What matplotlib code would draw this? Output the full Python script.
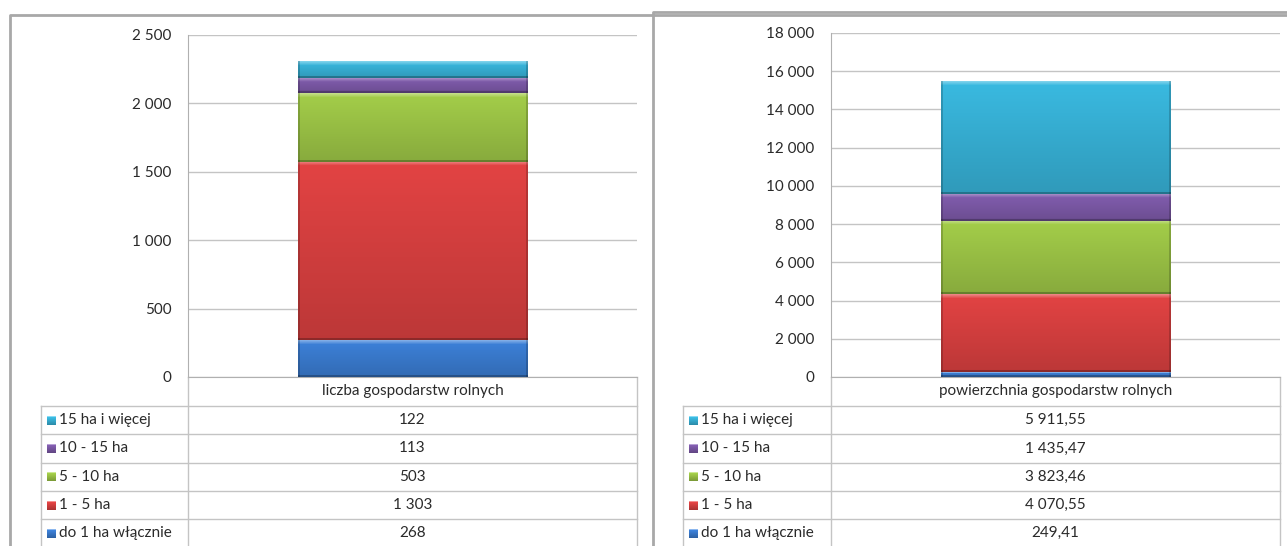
import numpy as np
import matplotlib
matplotlib.use('Agg')
import matplotlib.pyplot as plt
from matplotlib.ticker import FuncFormatter, FixedLocator
from matplotlib.colors import to_rgb

# data
categories = ['do 1 ha włącznie', '1 - 5 ha', '5 - 10 ha', '10 - 15 ha', '15 ha i więcej']
liczba = [268, 1303, 503, 113, 122]
powierzchnia = [249.41, 4070.55, 3823.46, 1435.47, 5911.55]
series_left = 'liczba gospodarstw rolnych'
series_right = 'powierzchnia gospodarstw rolnych'
ticks_left = [0, 500, 1000, 1500, 2000, 2500]
ticks_right = [0, 2000, 4000, 6000, 8000, 10000, 12000, 14000, 16000, 18000]

colors = ['#3a7bcf', '#d84040', '#9cc446', '#7c59a7', '#37b1d6']

W, H = 1287, 546
plt.rcParams['font.family'] = ['Lato', 'DejaVu Sans']
txt_col = '#2a2a2a'
line_col = '#c4c4c4'
fs = 11


def fbox(x0, y0, x1, y1):
    # pixel box (top-left origin) -> figure fraction
    return [x0 / W, 1 - y1 / H, (x1 - x0) / W, (y1 - y0) / H]


def fmt_int(v, pos=None):
    return f'{v:,.0f}'.replace(',', ' ')


def fmt_dec(v):
    s = f'{v:,.2f}'
    return s.replace(',', ' ').replace('.', ',')


def bevel(ax, rect, color, ppu, wpx):
    x, y = rect.get_x(), rect.get_y()
    w, h = rect.get_width(), rect.get_height()
    hp = max(int(round(h * ppu)), 4)
    base = np.array(to_rgb(color))
    t = np.linspace(0, 1, hp)[:, None, None]
    img = np.ones((hp, wpx, 3)) * base * (1.05 - 0.18 * t)
    n = min(4, hp // 3)
    for j in range(n):
        a = 0.35 * (1 - j / n)
        img[j] = img[j] * (1 - a) + a      # soft light top edge
    img[-2:] = img[-2:] * 0.75             # dark bottom edge
    img[:, :2] *= 0.82
    img[:, -2:] *= 0.82
    img = np.clip(img, 0, 1)
    ax.imshow(img, extent=(x, x + w, y, y + h), aspect='auto',
              interpolation='bilinear', origin='upper', zorder=3)


def swatch(color, size=9):
    base = np.array(to_rgb(color))
    t = np.linspace(0, 1, size)[:, None, None]
    img = np.ones((size, size, 3)) * base * (1.1 - 0.3 * t)
    img[0] = img[0] * 0.6 + 0.4
    return np.clip(img, 0, 1)


fig = plt.figure(figsize=(W / 100, H / 100), dpi=100)
ov = fig.add_axes([0, 0, 1, 1])
ov.set_xlim(0, W)
ov.set_ylim(H, 0)
ov.axis('off')

panels = [
    dict(frame=(10, 15), box=(188, 35, 637, 377), tleft=41, values=liczba,
         ticks=ticks_left, name=series_left, fmt=fmt_int),
    dict(frame=(653, 12), box=(831, 33, 1280, 377), tleft=683, values=powierzchnia,
         ticks=ticks_right, name=series_right, fmt=fmt_dec),
]

row_top = 406
row_h = 28.3

for p in panels:
    fx, fy = p['frame']
    ov.plot([fx, fx, W + 20], [H + 20, fy, fy], color='#a8a8a8', lw=2, zorder=1)

    x0, y0, x1, y1 = p['box']
    ax = fig.add_axes(fbox(x0, y0, x1, y1))
    ymax = p['ticks'][-1]
    bottoms = np.concatenate([[0], np.cumsum(p['values'])[:-1]])
    bars = ax.bar(0, p['values'], bottom=bottoms, width=0.512, color=colors, zorder=2)
    ppu = (y1 - y0) / ymax
    for rect, c in zip(bars, colors):
        bevel(ax, rect, c, ppu, 230)
    ax.set_xlim(-0.5, 0.5)
    ax.set_ylim(0, ymax)
    ax.yaxis.set_major_locator(FixedLocator(p['ticks']))
    ax.yaxis.set_major_formatter(FuncFormatter(fmt_int))
    ax.set_xticks([])
    ax.tick_params(axis='y', length=0, pad=12, labelsize=fs, labelcolor=txt_col)
    ax.grid(axis='y', color=line_col, lw=1, zorder=0)
    ax.set_axisbelow(True)
    for s in ['top', 'right']:
        ax.spines[s].set_visible(False)
    for s in ['left', 'bottom']:
        ax.spines[s].set_color('#b0b0b0')
    ax.patch.set_alpha(0)

    # data table below the plot
    tl, dv, tr = p['tleft'], x0, x1
    ov.plot([dv, dv], [y1, H + 5], color=line_col, lw=1)
    ov.plot([tr, tr], [y1, H + 5], color=line_col, lw=1)
    ov.plot([tl, tl], [row_top, H + 5], color=line_col, lw=1)
    ov.text((dv + tr) / 2, (y1 + row_top) / 2, p['name'], ha='center', va='center',
            fontsize=fs, color=txt_col)
    order = list(range(len(categories)))[::-1]
    for i, k in enumerate(order):
        top = row_top + i * row_h
        ov.plot([tl, tr], [top, top], color=line_col, lw=1)
        cy = top + row_h / 2
        ov.imshow(swatch(colors[k]), extent=(tl + 6, tl + 15, cy + 4.5, cy - 4.5),
                  interpolation='nearest', zorder=2)
        ov.text(tl + 18, cy, categories[k], ha='left', va='center',
                fontsize=fs, color=txt_col)
        ov.text((dv + tr) / 2, cy, p['fmt'](p['values'][k]), ha='center', va='center',
                fontsize=fs, color=txt_col)

ov.set_xlim(0, W)
ov.set_ylim(H, 0)
ov.set_aspect('auto')
fig.savefig('out.png', dpi=100)
